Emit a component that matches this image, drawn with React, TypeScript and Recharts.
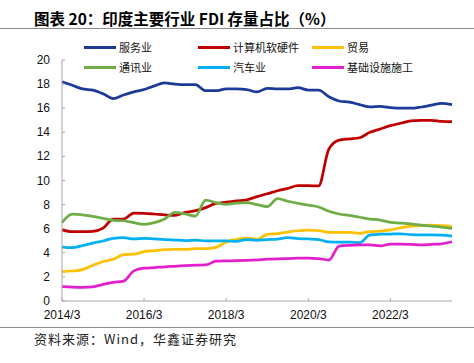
import React from "react";
import { LineChart, Line, XAxis, YAxis } from "recharts";

// quarterly, 2014/3 - 2023/9
const quarters = [
  "2014/3", "2014/6", "2014/9", "2014/12",
  "2015/3", "2015/6", "2015/9", "2015/12",
  "2016/3", "2016/6", "2016/9", "2016/12",
  "2017/3", "2017/6", "2017/9", "2017/12",
  "2018/3", "2018/6", "2018/9", "2018/12",
  "2019/3", "2019/6", "2019/9", "2019/12",
  "2020/3", "2020/6", "2020/9", "2020/12",
  "2021/3", "2021/6", "2021/9", "2021/12",
  "2022/3", "2022/6", "2022/9", "2022/12",
  "2023/3", "2023/6", "2023/9",
];

const services = [
  18.2, 17.9, 17.6, 17.5, 17.2, 16.8, 17.1, 17.35, 17.55, 17.85,
  18.1, 18.0, 17.95, 17.95, 17.45, 17.45, 17.6, 17.6, 17.55, 17.35,
  17.65, 17.6, 17.6, 17.7, 17.5, 17.5, 16.95, 16.6, 16.5, 16.3,
  16.1, 16.15, 16.05, 16.0, 16.0, 16.1, 16.25, 16.4, 16.3,
];
const computer = [
  5.9, 5.75, 5.75, 5.78, 6.05, 6.8, 6.8, 7.3, 7.28, 7.22,
  7.15, 7.1, 7.35, 7.5, 7.75, 8.1, 8.2, 8.3, 8.4, 8.66,
  8.9, 9.15, 9.35, 9.57, 9.57, 9.55, 12.6, 13.35, 13.45, 13.55,
  14.0, 14.27, 14.55, 14.75, 14.95, 15.0, 15.0, 14.9, 14.88,
];
const trade = [
  2.43, 2.49, 2.6, 2.96, 3.28, 3.46, 3.85, 3.88, 4.1, 4.18,
  4.26, 4.28, 4.28, 4.34, 4.34, 4.45, 4.9, 5.12, 5.22, 5.12,
  5.53, 5.6, 5.72, 5.83, 5.88, 5.85, 5.7, 5.7, 5.7, 5.62,
  5.75, 5.8, 5.9, 6.08, 6.22, 6.27, 6.3, 6.25, 6.17,
];
const telecom = [
  6.5, 7.2, 7.15, 7.02, 6.86, 6.7, 6.66, 6.5, 6.36, 6.5,
  6.8, 7.36, 7.22, 7.05, 8.38, 8.16, 8.02, 8.12, 8.16, 8.0,
  7.83, 8.5, 8.28, 8.1, 7.95, 7.8, 7.45, 7.22, 7.1, 6.95,
  6.8, 6.72, 6.53, 6.47, 6.4, 6.3, 6.22, 6.12, 6.03,
];
const auto = [
  4.5, 4.42, 4.6, 4.8, 4.98, 5.2, 5.25, 5.15, 5.2, 5.15,
  5.1, 5.06, 5.02, 5.06, 4.98, 4.98, 4.98, 4.95, 5.1, 5.04,
  5.1, 5.14, 5.25, 5.18, 5.15, 5.1, 4.9, 4.88, 4.88, 4.84,
  5.48, 5.54, 5.56, 5.58, 5.5, 5.48, 5.48, 5.46, 5.39,
];
const infra = [
  1.19, 1.15, 1.13, 1.17, 1.38, 1.55, 1.65, 2.5, 2.72, 2.77,
  2.84, 2.88, 2.93, 2.97, 2.99, 3.3, 3.33, 3.35, 3.38, 3.42,
  3.47, 3.5, 3.52, 3.55, 3.56, 3.52, 3.4, 4.55, 4.62, 4.65,
  4.65, 4.57, 4.72, 4.73, 4.7, 4.65, 4.7, 4.75, 4.92,
];

const yTicks = [0, 2, 4, 6, 8, 10, 12, 14, 16, 18, 20];

const series = [
  { key: "services", name: "服务业", color: "#1C3A98", values: services },
  { key: "computer", name: "计算机软硬件", color: "#C00000", values: computer },
  { key: "trade", name: "贸易", color: "#FFC000", values: trade },
  { key: "telecom", name: "通讯业", color: "#70AD47", values: telecom },
  { key: "auto", name: "汽车业", color: "#00B0F0", values: auto },
  { key: "infra", name: "基础设施施工", color: "#E21FCB", values: infra },
];

const data = quarters.map((q, i) => {
  const row: Record<string, string | number> = { q };
  series.forEach((s) => (row[s.key] = s.values[i]));
  return row;
});

const axisColor = "#A6A6A6";
const tickFont = "'Liberation Sans', Arial, sans-serif";
const cjkFont = "'Noto Sans CJK SC', sans-serif";

const XTick = ({ x, y, payload }: any) => (
  <g>
    <line x1={x} x2={x} y1={y} y2={y - 3} stroke={axisColor} />
    <text x={x} y={y + 18} textAnchor="middle" fontSize={12} fontFamily={tickFont} fill="#111">
      {payload.value}
    </text>
  </g>
);

const YTick = ({ x, y, payload }: any) => (
  <g>
    <line x1={x} x2={x + 3} y1={y} y2={y} stroke={axisColor} />
    <text x={x - 12} y={y + 4} textAnchor="end" fontSize={12} fontFamily={tickFont} fill="#111">
      {payload.value}
    </text>
  </g>
);

// legend positions
const legendPos = [
  { left: 84, top: 47 },
  { left: 198, top: 47 },
  { left: 312, top: 47 },
  { left: 84, top: 67 },
  { left: 198, top: 67 },
  { left: 312, top: 67 },
];

export default function App() {
  return (
    <div
      style={{
        position: "absolute",
        left: 0,
        top: 0,
        width: 474,
        height: 363,
        background: "#fff",
        overflow: "hidden",
      }}
    >
      <div
        style={{
          position: "absolute",
          left: 34,
          top: 7,
          fontFamily: cjkFont,
          fontWeight: 700,
          fontSize: 15.5,
          lineHeight: "22px",
          color: "#000",
          whiteSpace: "nowrap",
        }}
      >
        图表 20：印度主要行业 FDI 存量占比（%）
      </div>
      <div style={{ position: "absolute", left: 0, top: 28, width: 474, height: 1, background: "#8C8C8C" }} />

      <LineChart width={474} height={363} data={data} margin={{ top: 60, right: 22, bottom: 32, left: 12 }}>
        <XAxis
          dataKey="q"
          interval={7}
          height={30}
          stroke={axisColor}
          tickLine={false}
          tickSize={0}
          tickMargin={0}
          tick={<XTick />}
        />
        <YAxis
          domain={[0, 20]}
          ticks={yTicks}
          width={50}
          stroke={axisColor}
          tickLine={false}
          tickSize={0}
          tickMargin={0}
          tick={<YTick />}
        />
        {series.map((s) => (
          <Line
            key={s.key}
            dataKey={s.key}
            name={s.name}
            type="monotone"
            stroke={s.color}
            strokeWidth={2.75}
            dot={false}
            isAnimationActive={false}
          />
        ))}
      </LineChart>

      {series.map((s, i) => (
        <div
          key={s.key}
          style={{
            position: "absolute",
            left: legendPos[i].left,
            top: legendPos[i].top - 8,
            height: 16,
            display: "flex",
            alignItems: "center",
            fontFamily: cjkFont,
            fontSize: 11,
            color: "#111",
            whiteSpace: "nowrap",
          }}
        >
          <span style={{ display: "inline-block", width: 32, height: 3, background: s.color, marginRight: 3 }} />
          {s.name}
        </div>
      ))}

      <div style={{ position: "absolute", left: 0, top: 327, width: 474, height: 1, background: "#8C8C8C" }} />
      <div
        style={{
          position: "absolute",
          left: 34,
          top: 330,
          fontFamily: cjkFont,
          fontSize: 13,
          lineHeight: "17px",
          letterSpacing: 1,
          color: "#222",
          whiteSpace: "nowrap",
        }}
      >
        资料来源：Wind，华鑫证券研究
      </div>
    </div>
  );
}
